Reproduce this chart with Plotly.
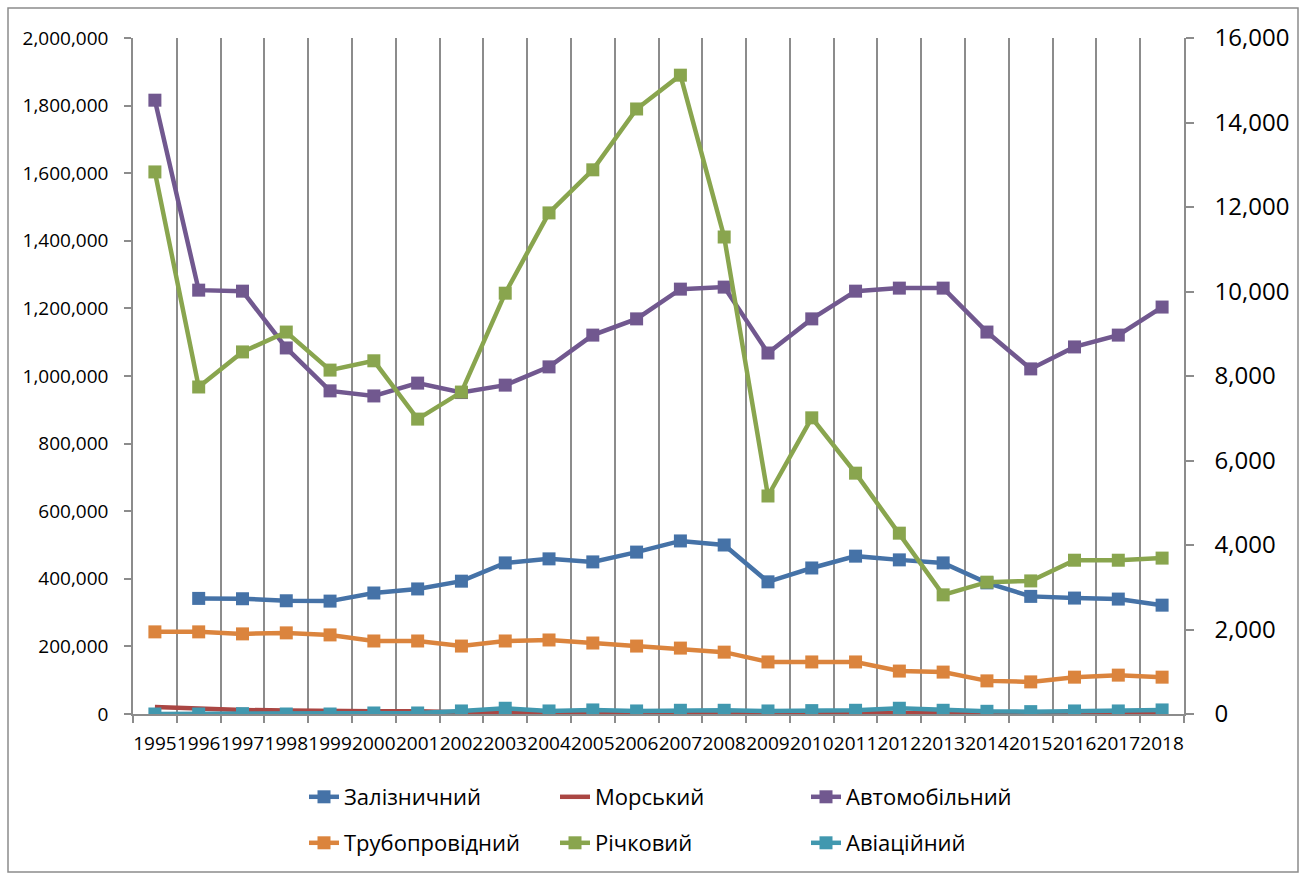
import plotly.graph_objects as go

years = list(range(1995, 2019))

rail = [None, 342000, 341000, 335000, 334000, 358000, 370000, 393000, 447000, 459000,
        450000, 479000, 512000, 500000, 391000, 432000, 467000, 456000, 447000, 388000,
        348000, 343000, 340000, 322000]
sea = [21000, 16000, 12000, 10000, 8000, 8000, 8000, 5000, 7000, 4000,
       4000, 4000, 4000, 4000, 3000, 3000, 3000, 3000, 3000, 2000,
       2000, 2000, 2000, 2000]
road = [1816000, 1254000, 1251000, 1083000, 956000, 941000, 979000, 951000, 973000, 1027000,
        1121000, 1169000, 1257000, 1263000, 1068000, 1169000, 1251000, 1260000, 1260000, 1130000,
        1021000, 1086000, 1121000, 1204000]
pipe = [243000, 243000, 237000, 240000, 234000, 216000, 216000, 201000, 216000, 219000,
        210000, 201000, 195000, 183000, 154000, 154000, 154000, 127000, 124000, 98000,
        95000, 109000, 115000, 109000]
river = [12830, 7740, 8570, 9040, 8140, 8360, 6980, 7620, 9960, 11860,
         12880, 14320, 15120, 11290, 5160, 7010, 5700, 4280, 2820, 3120,
         3150, 3640, 3640, 3690]
air = [0, 0, 1000, 0, 0, 3000, 3000, 9000, 17000, 9000,
       12000, 9000, 11000, 11000, 9000, 10000, 11000, 17000, 11000, 8000,
       7000, 9000, 9000, 12000]

names = ["Залізничний", "Морський", "Автомобільний", "Трубопровідний", "Річковий", "Авіаційний"]
colors = ["#4572A7", "#AA4643", "#71588F", "#DB843D", "#89A54E", "#4198AF"]

FONT = "Open Sans"
GRID = "#8C8C8C"

fig = go.Figure()

def add(y, i, markers=True, axis="y", legend="legend", rank=1000):
    fig.add_trace(go.Scatter(
        x=years, y=y, name=names[i], yaxis=axis, legend=legend, legendrank=rank,
        mode="lines+markers" if markers else "lines",
        line=dict(color=colors[i], width=4.5),
        marker=dict(symbol="square", size=13, color=colors[i]),
        connectgaps=False,
    ))

add(rail, 0, legend="legend", rank=1)
add(sea, 1, markers=False, legend="legend", rank=2)
add(road, 2, legend="legend", rank=3)
add(pipe, 3, legend="legend2", rank=1)
add(air, 5, legend="legend2", rank=3)
add(river, 4, axis="y2", legend="legend2", rank=2)

# plot area: x 133..1184, y 38..714
L, R, T, B = 133, 1184, 38, 714
W, H = 1305, 874
pw, ph = R - L, B - T

leg_common = dict(
    orientation="h", xanchor="left", yanchor="middle",
    entrywidth=206, entrywidthmode="pixels",
    font=dict(size=22, family=FONT, color="black"),
    bgcolor="rgba(0,0,0,0)", traceorder="normal",
)

fig.update_layout(
    width=W, height=H,
    margin=dict(l=L, r=W - R, t=T, b=H - B, pad=0, autoexpand=False),
    paper_bgcolor="white", plot_bgcolor="white",
    font=dict(family=FONT, color="black"),
    showlegend=True,
    xaxis=dict(
        range=[1994.5, 2018.5], tickmode="array", tickvals=years,
        ticktext=[str(y) for y in years], tickangle=0,
        ticks="", showgrid=False, zeroline=False,
        showline=True, linecolor=GRID, linewidth=1.5,
        tickfont=dict(size=19, family=FONT), ticklabelstandoff=11,
        minor=dict(tick0=1994.5, dtick=1, showgrid=True, gridcolor=GRID,
                   gridwidth=1.5, ticks="outside", ticklen=7, tickcolor=GRID,
                   tickwidth=1.5),
    ),
    yaxis=dict(
        range=[0, 2000000], dtick=200000, tick0=0, tickformat=",",
        showgrid=False, zeroline=False, showline=True, linecolor=GRID,
        linewidth=1.5, ticks="outside", ticklen=7, tickcolor=GRID, tickwidth=1.5,
        tickfont=dict(size=19, family=FONT), ticklabelstandoff=12,
    ),
    yaxis2=dict(
        range=[0, 16000], dtick=2000, tick0=0, tickformat=",",
        overlaying="y", side="right", anchor="x",
        showgrid=False, zeroline=False, showline=True, linecolor=GRID,
        linewidth=1.5, ticks="outside", ticklen=8, tickcolor=GRID, tickwidth=1.5,
        tickfont=dict(size=24, family=FONT), ticklabelstandoff=16,
    ),
    legend=dict(x=(304 - L) / pw, y=(B - 797) / ph, **leg_common),
    legend2=dict(x=(304 - L) / pw, y=(B - 843) / ph, **leg_common),
)

# outer chart border
fig.add_shape(type="rect", xref="paper", yref="paper",
              x0=(8 - L) / pw, x1=(1298 - L) / pw,
              y0=(B - 872) / ph, y1=(B - 8) / ph,
              line=dict(color=GRID, width=1.5), fillcolor="rgba(0,0,0,0)", layer="below")

fig.write_html("out.html")
